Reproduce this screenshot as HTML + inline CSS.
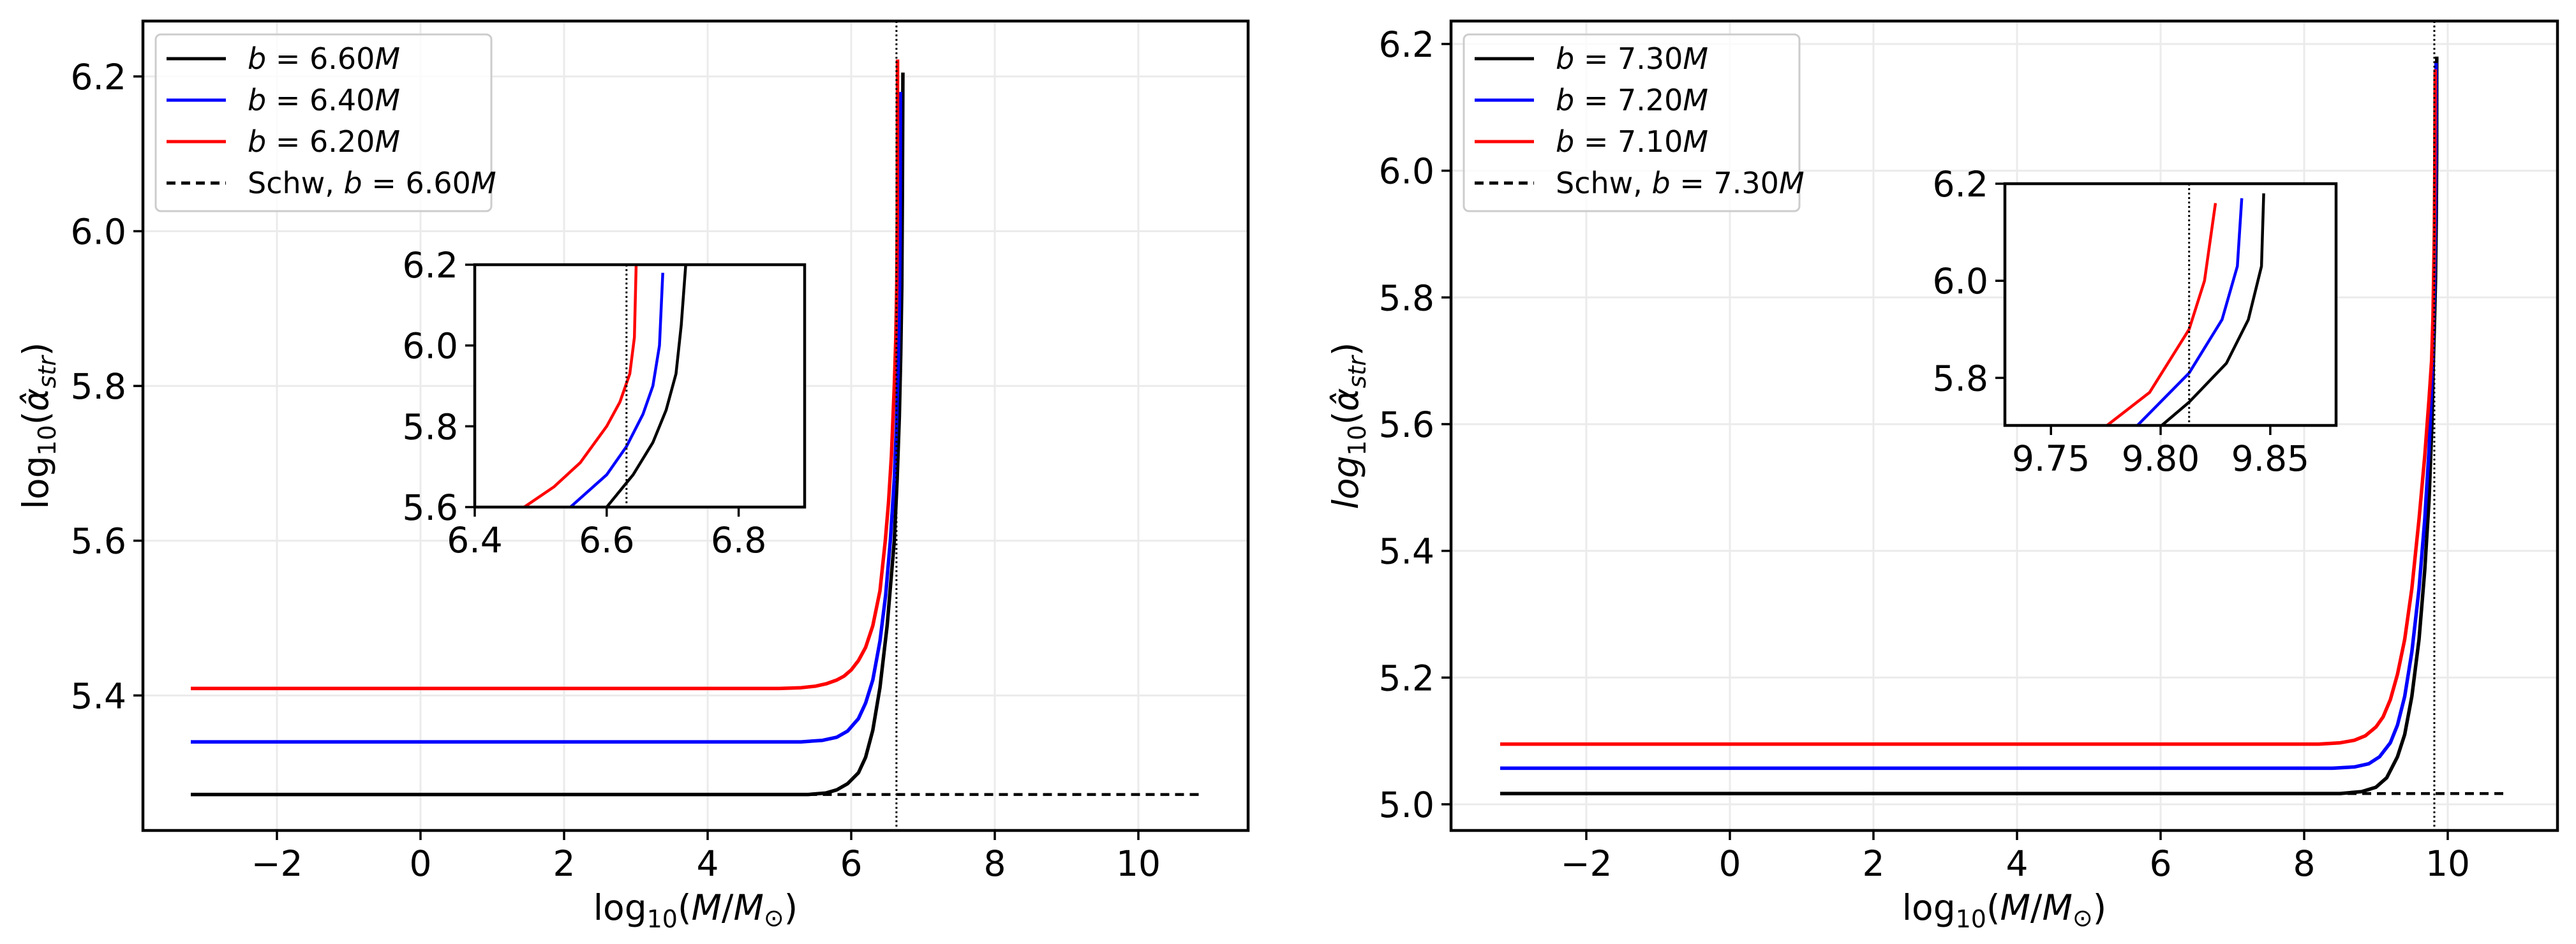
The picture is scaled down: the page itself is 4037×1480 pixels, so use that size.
<!DOCTYPE html>
<html><head><meta charset="utf-8">
<style>
html,body{margin:0;padding:0;background:#fff;}
svg{display:block;font-family:"DejaVu Sans","Liberation Sans",sans-serif;}
</style></head>
<body>
<svg id="fig" width="4037" height="1480" viewBox="0 0 4037 1480" xmlns="http://www.w3.org/2000/svg"></svg>
<script>
// ---- Left panel data ----
const L_redX = [-3.2, 5.0, 5.3, 5.5, 5.65, 5.8, 5.9, 6.0, 6.1, 6.2, 6.3, 6.4, 6.475, 6.52, 6.56, 6.6, 6.62, 6.635, 6.642, 6.645];
const L_redY = [5.409, 5.409, 5.410, 5.412, 5.415, 5.420, 5.425, 5.433, 5.445, 5.462, 5.49, 5.535, 5.6, 5.65, 5.71, 5.8, 5.86, 5.93, 6.02, 6.222];
const L_blueX = [-3.2, 5.3, 5.6, 5.8, 5.95, 6.1, 6.2, 6.3, 6.4, 6.48, 6.545, 6.6, 6.63, 6.655, 6.67, 6.68, 6.685];
const L_blueY = [5.340, 5.340, 5.342, 5.346, 5.354, 5.37, 5.39, 5.42, 5.47, 5.53, 5.6, 5.68, 5.75, 5.83, 5.9, 6.0, 6.18];
const L_blackX = [-3.2, 5.4, 5.65, 5.8, 5.95, 6.1, 6.2, 6.3, 6.4, 6.5, 6.6, 6.64, 6.67, 6.69, 6.705, 6.713, 6.72];
const L_blackY = [5.272, 5.272, 5.274, 5.278, 5.286, 5.30, 5.32, 5.355, 5.41, 5.49, 5.6, 5.68, 5.76, 5.84, 5.93, 6.05, 6.205];
const L_schwX = [5.4, 10.84];
const L_schwY = [5.272, 5.272];
const L_vline = 6.63;
const L_xticks = [-2, 0, 2, 4, 6, 8, 10];
const L_yticks = [5.4, 5.6, 5.8, 6.0, 6.2];
const L_inXticks = [6.4, 6.6, 6.8];
const L_inYticks = [5.6, 5.8, 6.0, 6.2];
const L_labels = ["6.60", "6.40", "6.20", "6.60"];
// ---- Right panel data ----
const R_redX = [-3.2, 8.2, 8.5, 8.7, 8.85, 9.0, 9.1, 9.2, 9.3, 9.4, 9.5, 9.6, 9.68, 9.74, 9.775, 9.795, 9.813, 9.82, 9.825];
const R_redY = [5.095, 5.095, 5.097, 5.101, 5.108, 5.122, 5.138, 5.165, 5.205, 5.26, 5.34, 5.45, 5.55, 5.64, 5.70, 5.77, 5.9, 6.0, 6.16];
const R_blueX = [-3.2, 8.4, 8.7, 8.9, 9.05, 9.2, 9.3, 9.4, 9.5, 9.6, 9.68, 9.74, 9.789, 9.813, 9.828, 9.835, 9.837];
const R_blueY = [5.057, 5.057, 5.059, 5.064, 5.075, 5.097, 5.125, 5.17, 5.24, 5.34, 5.45, 5.56, 5.70, 5.81, 5.92, 6.03, 6.17];
const R_blackX = [-3.2, 8.5, 8.8, 9.0, 9.15, 9.3, 9.4, 9.5, 9.6, 9.68, 9.74, 9.78, 9.80, 9.813, 9.83, 9.84, 9.846, 9.847];
const R_blackY = [5.017, 5.017, 5.020, 5.027, 5.042, 5.075, 5.11, 5.17, 5.26, 5.37, 5.48, 5.60, 5.70, 5.75, 5.83, 5.92, 6.03, 6.18];
const R_schwX = [8.4, 10.84];
const R_schwY = [5.017, 5.017];
const R_vline = 9.813;
const R_xticks = [-2, 0, 2, 4, 6, 8, 10];
const R_yticks = [5.0, 5.2, 5.4, 5.6, 5.8, 6.0, 6.2];
const R_inXticks = [9.75, 9.80, 9.85];
const R_inYticks = [5.8, 6.0, 6.2];
const R_labels = ["7.30", "7.20", "7.10", "7.30"];

const NS = "http://www.w3.org/2000/svg";
const fig = document.getElementById('fig');
function mk(tag, attrs, parent, name, inter) {
  const e = document.createElementNS(NS, tag);
  for (const k in attrs) e.setAttribute(k, attrs[k]);
  
  
  (parent || fig).appendChild(e);
  return e;
}
function fmt(v, d) { return (v < 0 ? "\u2212" : "") + Math.abs(v).toFixed(d); }
function pts(xs, ys, sx, sy) { return xs.map((v, i) => sx(v).toFixed(1) + "," + sy(ys[i]).toFixed(1)).join(" "); }

let clipId = 0;
function drawPanel(P) {
  const g = mk('g', {}, fig, P.name, false);
  const sx = v => P.x0 + (v - P.xmin) / (P.xmax - P.xmin) * (P.x1 - P.x0);
  const sy = v => P.y1 - (v - P.ymin) / (P.ymax - P.ymin) * (P.y1 - P.y0);
  clipId++;
  const cid = 'clip' + clipId;
  const defs = mk('defs', {}, g, 'clip-defs', false);
  const cp = mk('clipPath', { id: cid }, defs, 'plot-clip', false);
  mk('rect', { x: P.x0, y: P.y0, width: P.x1 - P.x0, height: P.y1 - P.y0 }, cp, 'plot-clip-rect', false);
  P.xticks.forEach(t => {
    mk('line', { x1: sx(t), x2: sx(t), y1: P.y0, y2: P.y1, stroke: '#ebebeb', 'stroke-width': 3 }, g, 'x-grid-line', false);
  });
  P.yticks.forEach(t => {
    mk('line', { x1: P.x0, x2: P.x1, y1: sy(t), y2: sy(t), stroke: '#ebebeb', 'stroke-width': 3 }, g, 'y-grid-line', false);
  });
  const pg = mk('g', { 'clip-path': 'url(#' + cid + ')', 'stroke-linejoin': 'round', 'stroke-linecap': 'butt' }, g, 'plot-area', false);
  mk('polyline', { points: pts(P.schwX, P.schwY, sx, sy), fill: 'none', stroke: '#000', 'stroke-width': 4.5, 'stroke-dasharray': '14,9' }, pg, 'schw-dashed-line', false);
  mk('polyline', { points: pts(P.blackX, P.blackY, sx, sy), fill: 'none', stroke: '#000', 'stroke-width': 5.5 }, pg, 'series-black', false);
  mk('polyline', { points: pts(P.blueX, P.blueY, sx, sy), fill: 'none', stroke: '#0000ff', 'stroke-width': 5.5 }, pg, 'series-blue', false);
  mk('polyline', { points: pts(P.redX, P.redY, sx, sy), fill: 'none', stroke: '#ff0000', 'stroke-width': 5.5 }, pg, 'series-red', false);
  mk('line', { x1: sx(P.vline), x2: sx(P.vline), y1: P.y0, y2: P.y1, stroke: '#000', 'stroke-width': 3, 'stroke-dasharray': '3,4' }, pg, 'vertical-dotted-line', false);
  mk('rect', { x: P.x0, y: P.y0, width: P.x1 - P.x0, height: P.y1 - P.y0, fill: 'none', stroke: '#000', 'stroke-width': 4.5 }, g, 'axes-frame', false);
  P.xticks.forEach(t => {
    mk('line', { x1: sx(t), x2: sx(t), y1: P.y1, y2: P.y1 + 15, stroke: '#000', 'stroke-width': 3.5 }, g, 'x-tick', false);
    const tx = mk('text', { x: sx(t), y: P.y1 + 71, 'font-size': 55, 'text-anchor': 'middle' }, g, 'x-tick-label', false);
    tx.textContent = fmt(t, 0);
  });
  P.yticks.forEach(t => {
    mk('line', { x1: P.x0 - 15, x2: P.x0, y1: sy(t), y2: sy(t), stroke: '#000', 'stroke-width': 3.5 }, g, 'y-tick', false);
    const tx = mk('text', { x: P.x0 - 26, y: sy(t) + 20, 'font-size': 55, 'text-anchor': 'end' }, g, 'y-tick-label', false);
    tx.textContent = fmt(t, 1);
  });
  const xl = mk('text', { x: (P.x0 + P.x1) / 2, y: P.y1 + 140, 'font-size': 55, 'text-anchor': 'middle' }, g, 'x-axis-title', false);
  xl.innerHTML = 'log<tspan font-size="38" dy="12">10</tspan><tspan dy="-12">(</tspan><tspan font-style="italic">M</tspan>/<tspan font-style="italic">M</tspan><tspan font-size="38" dy="10">\u2299</tspan><tspan dy="-10">)</tspan>';
  const yl = mk('text', { transform: 'translate(' + P.ylx + ',' + ((P.y0 + P.y1) / 2) + ') rotate(-90)', 'font-size': 55, 'text-anchor': 'middle' }, g, 'y-axis-title', false);
  yl.innerHTML = '<tspan' + (P.italicLog ? ' font-style="italic"' : '') + '>log</tspan><tspan font-size="38" dy="12">10</tspan><tspan dy="-12">(</tspan><tspan font-style="italic">\u03B1\u0302</tspan><tspan font-size="38" font-style="italic" dy="12">str</tspan><tspan dy="-12">)</tspan>';
  const lg = mk('g', {}, g, 'legend', false);
  const lx = P.x0 + 20, ly = P.y0 + 21;
  mk('rect', { x: lx, y: ly, width: P.legW, height: 277, rx: 8, fill: '#fff', 'fill-opacity': 0.8, stroke: '#cccccc', 'stroke-width': 3 }, lg, 'legend-box', false);
  const cols = ['#000', '#0000ff', '#ff0000', '#000'];
  for (let i = 0; i < 4; i++) {
    const yy = ly + 38 + i * 65;
    const attrs = { x1: lx + 17, x2: lx + 110, y1: yy, y2: yy, stroke: cols[i], 'stroke-width': 5 };
    if (i === 3) attrs['stroke-dasharray'] = '14,9';
    mk('line', attrs, lg, 'legend-handle', false);
    const t = mk('text', { x: lx + 144, y: yy + 16, 'font-size': 46 }, lg, 'legend-entry', false);
    t.innerHTML = (i === 3 ? 'Schw, ' : '') + '<tspan font-style="italic">b</tspan> = ' + P.labels[i] + '<tspan font-style="italic">M</tspan>';
  }
  const I = P.inset;
  const ig = mk('g', {}, g, 'inset-axes', false);
  const ix = v => I.x0 + (v - I.xmin) / (I.xmax - I.xmin) * (I.x1 - I.x0);
  const iy = v => I.y1 - (v - I.ymin) / (I.ymax - I.ymin) * (I.y1 - I.y0);
  clipId++;
  const icid = 'clip' + clipId;
  const icp = mk('clipPath', { id: icid }, defs, 'inset-clip', false);
  mk('rect', { x: I.x0, y: I.y0, width: I.x1 - I.x0, height: I.y1 - I.y0 }, icp, 'inset-clip-rect', false);
  mk('rect', { x: I.x0, y: I.y0, width: I.x1 - I.x0, height: I.y1 - I.y0, fill: '#fff' }, ig, 'inset-background', false);
  const ipg = mk('g', { 'clip-path': 'url(#' + icid + ')', 'stroke-linejoin': 'round' }, ig, 'inset-plot-area', false);
  mk('polyline', { points: pts(P.blackX, P.blackY, ix, iy), fill: 'none', stroke: '#000', 'stroke-width': 4.5 }, ipg, 'inset-series-black', false);
  mk('polyline', { points: pts(P.blueX, P.blueY, ix, iy), fill: 'none', stroke: '#0000ff', 'stroke-width': 4.5 }, ipg, 'inset-series-blue', false);
  mk('polyline', { points: pts(P.redX, P.redY, ix, iy), fill: 'none', stroke: '#ff0000', 'stroke-width': 4.5 }, ipg, 'inset-series-red', false);
  mk('line', { x1: ix(P.vline), x2: ix(P.vline), y1: I.y0, y2: I.y1, stroke: '#000', 'stroke-width': 3, 'stroke-dasharray': '3,4' }, ipg, 'inset-vertical-dotted-line', false);
  mk('rect', { x: I.x0, y: I.y0, width: I.x1 - I.x0, height: I.y1 - I.y0, fill: 'none', stroke: '#000', 'stroke-width': 4.5 }, ig, 'inset-frame', false);
  P.inXticks.forEach(t => {
    mk('line', { x1: ix(t), x2: ix(t), y1: I.y1, y2: I.y1 + 15, stroke: '#000', 'stroke-width': 3.5 }, ig, 'inset-x-tick', false);
    const tx = mk('text', { x: ix(t), y: I.y1 + 71, 'font-size': 55, 'text-anchor': 'middle' }, ig, 'inset-x-tick-label', false);
    tx.textContent = t.toFixed(I.xd);
  });
  P.inYticks.forEach(t => {
    mk('line', { x1: I.x0 - 15, x2: I.x0, y1: iy(t), y2: iy(t), stroke: '#000', 'stroke-width': 3.5 }, ig, 'inset-y-tick', false);
    const tx = mk('text', { x: I.x0 - 26, y: iy(t) + 20, 'font-size': 55, 'text-anchor': 'end' }, ig, 'inset-y-tick-label', false);
    tx.textContent = t.toFixed(1);
  });
}

drawPanel({
  name: 'left-panel', x0: 224, x1: 1956, y0: 33, y1: 1302,
  xmin: -3.8667, xmax: 11.5289, ymin: 5.2255, ymax: 6.2716,
  redX: L_redX, redY: L_redY, blueX: L_blueX, blueY: L_blueY, blackX: L_blackX, blackY: L_blackY,
  schwX: L_schwX, schwY: L_schwY, vline: L_vline, xticks: L_xticks, yticks: L_yticks,
  inXticks: L_inXticks, inYticks: L_inYticks, labels: L_labels, ylx: 75, italicLog: false, legW: 526,
  inset: { x0: 744, x1: 1261, y0: 415, y1: 795, xmin: 6.4, xmax: 6.9, ymin: 5.6, ymax: 6.2, xd: 1 }
});
drawPanel({
  name: 'right-panel', x0: 2274, x1: 4008, y0: 33, y1: 1302,
  xmin: -3.8844, xmax: 11.5289, ymin: 4.9587, ymax: 6.2362,
  redX: R_redX, redY: R_redY, blueX: R_blueX, blueY: R_blueY, blackX: R_blackX, blackY: R_blackY,
  schwX: R_schwX, schwY: R_schwY, vline: R_vline, xticks: R_xticks, yticks: R_yticks,
  inXticks: R_inXticks, inYticks: R_inYticks, labels: R_labels, ylx: 2128, italicLog: true, legW: 526,
  inset: { x0: 3142, x1: 3661, y0: 288, y1: 667, xmin: 9.729, xmax: 9.88, ymin: 5.702, ymax: 6.2, xd: 2 }
});
</script>
</body></html>
